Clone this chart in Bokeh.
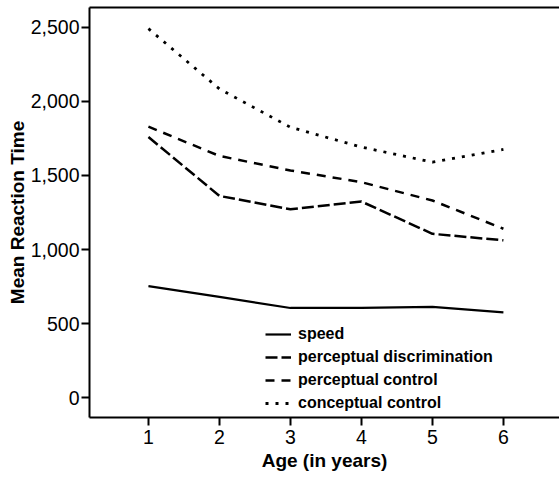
from bokeh.plotting import figure
from bokeh.models import (LinearAxis, FixedTicker, NumeralTickFormatter, Range1d,
                          Legend, LegendItem)
from bokeh.embed import file_html
from bokeh.resources import INLINE

ages = [1, 2, 3, 4, 5, 6]
speed = [752, 680, 605, 605, 612, 575]
perceptual_discrimination = [1760, 1362, 1272, 1324, 1106, 1062]
perceptual_control = [1830, 1632, 1534, 1455, 1331, 1140]
conceptual_control = [2492, 2085, 1826, 1692, 1590, 1676]
y_ticks = [0, 500, 1000, 1500, 2000, 2500]
x_ticks = [1, 2, 3, 4, 5, 6]

FONT = "Liberation Sans"

p = figure(width=559, height=477, output_backend="svg", toolbar_location=None,
           x_range=Range1d(0.17, 6.79), y_range=Range1d(-135, 2635),
           x_axis_location=None, y_axis_location=None,
           min_border_left=89, min_border_bottom=60, min_border_top=7,
           min_border_right=0)
p.outline_line_color = None
p.xgrid.visible = False
p.ygrid.visible = False
p.background_fill_color = "white"
p.border_fill_color = "white"

# axes
yax = LinearAxis(ticker=FixedTicker(ticks=y_ticks),
                 formatter=NumeralTickFormatter(format="0,0"),
                 axis_label="Mean Reaction Time")
xax = LinearAxis(ticker=FixedTicker(ticks=x_ticks), axis_label="Age (in years)")
for ax in (xax, yax):
    ax.axis_line_width = 2
    ax.axis_line_color = "black"
    ax.major_tick_line_width = 2
    ax.major_tick_line_color = "black"
    ax.major_tick_out = 8
    ax.major_tick_in = 0
    ax.minor_tick_out = 0
    ax.minor_tick_in = 0
    ax.major_label_text_font = FONT
    ax.major_label_text_font_size = "19.5px"
    ax.major_label_text_color = "black"
    ax.axis_label_text_font = FONT
    ax.axis_label_text_font_size = "19px"
    ax.axis_label_text_font_style = "bold"
    ax.axis_label_text_color = "black"
yax.major_label_standoff = 2
yax.axis_label_standoff = 0
xax.major_label_standoff = 4
xax.axis_label_standoff = 3
p.add_layout(yax, "left")
p.add_layout(xax, "below")

top = LinearAxis(ticker=FixedTicker(ticks=[]))
top.axis_line_width = 2
top.axis_line_color = "black"
top.major_tick_out = 0
top.major_tick_in = 0
top.minor_tick_out = 0
top.minor_tick_in = 0
top.major_label_standoff = 0
top.major_label_text_font_size = "0px"
p.add_layout(top, "above")

r1 = p.line(ages, speed, line_color="black", line_width=2.2)
r2 = p.line(ages, perceptual_discrimination, line_color="black", line_width=2.5,
            line_dash="12 4")
r3 = p.line(ages, perceptual_control, line_color="black", line_width=2.5,
            line_dash="9 7")
r4 = p.line(ages, conceptual_control, line_color="black", line_width=2.8,
            line_dash="3 7")

legend = Legend(items=[
    LegendItem(label="speed", renderers=[r1]),
    LegendItem(label="perceptual discrimination", renderers=[r2]),
    LegendItem(label="perceptual control", renderers=[r3]),
    LegendItem(label="conceptual control", renderers=[r4]),
], location=(176, 4))
legend.border_line_color = None
legend.background_fill_alpha = 0
legend.padding = 0
legend.margin = 0
legend.spacing = 3
legend.glyph_width = 26
legend.glyph_height = 20
legend.label_height = 20
legend.label_standoff = 7
legend.label_text_font = FONT
legend.label_text_font_size = "16px"
legend.label_text_font_style = "bold"
legend.label_text_color = "black"
p.add_layout(legend, "center")

open("out.html", "w").write(file_html(p, INLINE))
